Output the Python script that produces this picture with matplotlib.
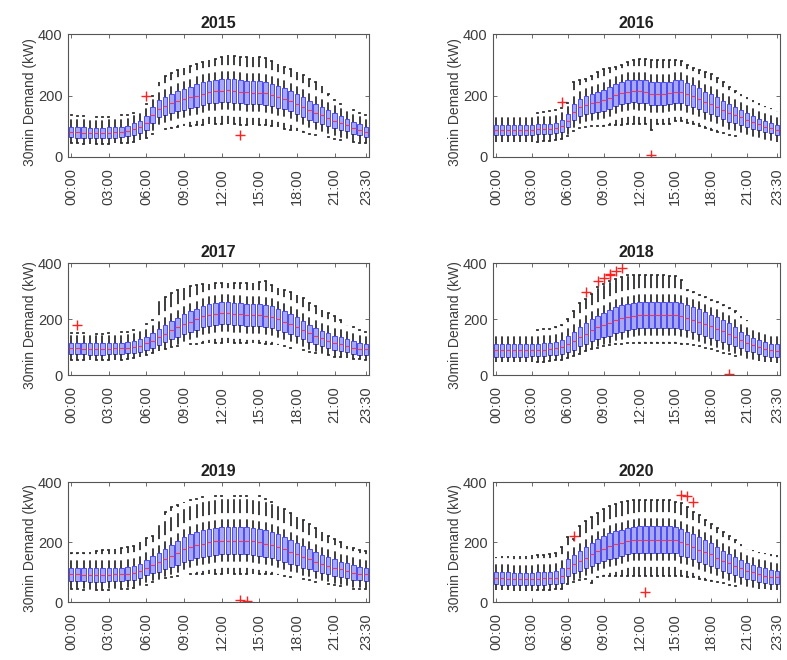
import matplotlib
matplotlib.use("Agg")
import matplotlib.pyplot as plt
import numpy as np

plt.rcParams["font.family"] = ["Liberation Sans", "DejaVu Sans"]
plt.rcParams["lines.scale_dashes"] = False

years = ["2015", "2016", "2017", "2018", "2019", "2020"]
tick_labels = ["00:00", "03:00", "06:00", "09:00", "12:00", "15:00", "18:00", "21:00", "23:30"]
slots = [f"{h:02d}:{m}" for h in range(24) for m in ("00", "30")]

# ---------------- 2015 ----------------
med_2015 = [82,80,79,78,78,78,79,80,82,85, 90,98,110,135,157,166,174,181,188,194,
            200,206,211,214,216,217,215,212,210,209, 209,207,202,196,190,182,172,162,152,143,
            135,127,118,110,103,95,88,82]
q1_2015 = [65,63,62,61,61,61,62,63,65,67, 71,78,88,109,129,136,142,148,154,159,
           164,169,174,176,178,179,177,174,172,171, 171,170,165,160,155,148,139,130,121,113,
           107,101,94,88,83,76,70,65]
q3_2015 = [99,97,96,95,95,95,96,97,99,102, 109,118,132,161,185,196,206,214,222,229,
           236,243,248,252,254,255,253,250,248,247, 247,244,239,232,225,216,205,194,183,173,
           163,153,142,132,123,114,106,99]
hi_2015 = [135,133,132,130,130,130,131,133,135,138, 142,150,172,200,245,262,272,282,290,296,
           303,310,315,318,325,333,330,326,325,325, 325,322,312,302,292,285,278,266,255,245,
           232,205,185,172,162,152,143,136]
lo_2015 = [45,44,43,42,42,42,43,44,45,47, 50,55,62,75,88,92,95,98,100,102,
           104,105,106,107,108,108,107,105,104,104, 104,103,100,96,92,88,84,80,76,72,
           68,64,60,56,52,50,47,45]
out_2015 = [("06:00", 200), ("13:30", 70)]

# ---------------- 2016 ----------------
med_2016 = [88,88,88,88,88,88,89,90,91,92, 94,101,118,147,161,169,174,180,185,192,
            201,208,212,215,214,212,206,206,206,208, 212,212,206,198,190,180,172,163,153,144,
            137,129,120,113,106,99,94,88]
q1_2016 = [72,72,72,72,72,72,73,74,75,76, 77,82,96,121,133,139,142,147,151,157,
           165,171,175,178,177,175,169,169,169,171, 175,175,170,163,156,147,140,132,123,115,
           110,104,97,92,87,81,77,72]
q3_2016 = [104,104,104,104,104,104,105,106,107,108, 111,120,140,173,189,199,206,213,219,227,
           237,245,249,252,251,249,243,243,243,245, 249,249,242,233,224,213,204,194,183,173,
           164,154,143,134,125,117,111,104]
hi_2016 = [142,142,142,142,142,142,143,144,146,148, 152,158,175,244,249,255,265,275,287,290,
           292,300,308,315,318,318,316,315,315,315, 315,312,298,290,282,276,271,258,244,228,
           215,205,195,185,175,165,158,150]
lo_2016 = [48,48,48,48,48,48,49,50,51,52, 54,58,68,85,95,98,100,101,102,103,
           104,105,106,106,106,106,88,106,106,106, 118,116,112,106,100,94,88,82,77,72,
           68,64,60,57,54,52,50,48]
out_2016 = [("05:30", 180), ("13:00", 7)]

# ---------------- 2017 ----------------
med_2017 = [96,95,94,93,93,93,94,95,96,98, 101,105,113,123,135,147,161,171,183,191,
            199,209,215,218,221,221,218,217,215,215, 215,211,207,199,191,183,173,161,149,140,
            131,123,116,110,104,98,94,92]
q1_2017 = [76,75,74,73,73,73,74,75,76,78, 80,83,89,97,107,117,129,137,147,154,
           161,170,175,178,181,181,178,177,175,175, 175,171,168,161,154,147,139,129,119,112,
           104,97,91,86,81,76,73,72]
q3_2017 = [116,115,114,113,113,113,114,115,116,118, 122,127,137,149,163,177,193,205,219,228,
           237,248,255,258,261,261,258,257,255,255, 255,251,246,237,228,219,207,193,179,168,
           158,149,141,134,127,120,115,112]
hi_2017 = [150,150,149,148,148,148,149,150,152,155, 160,170,182,195,263,280,292,304,312,318,
           322,325,326,328,328,328,328,328,329,330, 332,334,320,310,304,296,287,275,257,245,
           233,220,209,195,180,170,160,155]
lo_2017 = [55,54,53,52,52,52,53,54,55,57, 60,64,70,78,86,94,100,104,108,110,
           112,113,114,115,115,115,115,114,114,114, 113,112,110,107,103,98,93,88,83,78,
           74,70,66,63,60,58,56,55]
out_2017 = [("00:30", 179)]

# ---------------- 2018 ----------------
med_2018 = [88,88,88,88,88,88,89,90,91,93, 95,101,110,122,137,148,160,170,178,186,
            196,202,208,211,214,214,214,214,214,214, 214,211,205,198,190,182,174,166,157,148,
            137,125,115,107,99,93,89,87]
q1_2018 = [66,66,66,66,66,66,67,68,69,71, 72,76,82,91,103,111,120,128,134,141,
           150,155,161,164,167,167,167,167,167,167, 167,164,159,153,146,139,132,126,119,112,
           104,95,87,81,74,69,66,65]
q3_2018 = [110,110,110,110,110,110,111,112,113,115, 118,126,138,153,171,185,200,212,222,231,
           242,249,255,258,261,261,261,261,261,261, 261,258,251,243,234,225,216,206,195,184,
           170,155,143,133,124,117,112,109]
hi_2018 = [152,152,152,153,154,155,157,160,163,166, 170,180,200,230,257,270,290,315,325,335,
           342,350,356,358,358,358,358,358,356,354, 352,340,304,295,287,278,269,260,250,240,
           227,212,197,180,168,161,155,152]
lo_2018 = [45,45,45,45,45,45,46,47,48,50, 52,55,60,68,76,84,92,98,104,108,
           110,112,114,115,115,115,115,115,115,115, 114,112,110,106,102,97,92,86,80,74,
           68,63,58,54,50,47,45,44]
out_2018 = [("07:30", 297), ("08:30", 336), ("09:00", 346), ("09:30", 356),
            ("09:30", 362), ("10:00", 370), ("10:30", 382), ("19:30", 4)]

# ---------------- 2019 ----------------
med_2019 = [93,92,91,90,90,90,91,92,93,95, 98,104,115,124,132,143,154,165,176,184,
            191,195,200,202,204,204,204,204,204,202, 200,195,191,184,176,168,160,151,143,135,
            128,121,115,109,104,98,95,93]
q1_2019 = [71,70,69,68,68,68,69,70,71,73, 75,80,89,96,101,109,117,125,134,141,
           147,150,155,157,159,159,159,159,159,157, 155,150,147,141,134,128,122,115,109,103,
           98,93,88,83,79,74,72,71]
q3_2019 = [115,114,113,112,112,112,113,114,115,117, 121,128,141,152,163,177,191,205,218,227,
           235,240,245,247,249,249,249,249,249,247, 245,240,235,227,218,208,198,187,177,167,
           158,149,142,135,129,122,118,115]
hi_2019 = [165,165,165,167,170,172,175,178,180,182, 186,199,215,221,277,300,316,325,333,340,
           345,350,353,355,355,355,355,355,355,355, 353,345,333,320,310,296,283,272,260,246,
           232,220,210,199,188,180,172,171]
lo_2019 = [42,42,41,40,40,40,41,42,43,45, 48,52,58,66,74,80,85,88,90,92,
           93,94,95,95,95,95,95,95,95,95, 94,93,92,90,87,84,80,76,72,68,
           64,60,56,52,48,45,43,42]
out_2019 = [("13:30", 8), ("14:00", 2)]

# ---------------- 2020 ----------------
med_2020 = [80,79,78,77,77,77,77,78,79,80, 81,88,115,126,137,148,159,170,178,186,
            192,197,203,206,208,208,208,208,208,208, 206,199,192,184,175,167,159,148,137,129,
            121,112,104,99,93,88,84,82]
q1_2020 = [59,58,57,56,56,56,56,57,58,59, 59,64,87,96,105,113,121,130,136,143,
           148,153,159,162,164,164,164,164,164,164, 162,155,149,142,134,127,121,112,103,97,
           91,84,77,73,68,64,61,60]
q3_2020 = [101,100,99,98,98,98,98,99,100,101, 103,112,143,156,169,183,197,210,220,229,
           236,241,247,250,252,252,252,252,252,252, 250,243,235,226,216,207,197,184,171,161,
           151,140,131,125,118,112,107,104]
hi_2020 = [150,152,153,155,155,155,156,157,158,160, 165,185,217,210,255,270,283,297,311,320,
           328,333,338,339,339,339,339,339,339,339, 335,330,317,300,289,275,261,247,233,220,
           206,192,178,172,167,164,161,158]
lo_2020 = [40,40,39,38,38,38,38,39,40,41, 42,45,60,68,74,78,65,84,86,88,
           88,88,88,88,88,88,88,88,88,88, 88,87,85,82,78,74,70,66,62,58,
           55,52,49,46,44,42,41,40]
out_2020 = [("06:30", 221), ("12:30", 32), ("15:30", 356), ("16:00", 352), ("16:30", 334)]

series = {
    "2015": (med_2015, q1_2015, q3_2015, lo_2015, hi_2015, out_2015),
    "2016": (med_2016, q1_2016, q3_2016, lo_2016, hi_2016, out_2016),
    "2017": (med_2017, q1_2017, q3_2017, lo_2017, hi_2017, out_2017),
    "2018": (med_2018, q1_2018, q3_2018, lo_2018, hi_2018, out_2018),
    "2019": (med_2019, q1_2019, q3_2019, lo_2019, hi_2019, out_2019),
    "2020": (med_2020, q1_2020, q3_2020, lo_2020, hi_2020, out_2020),
}

W, H = 787, 660
fig = plt.figure(figsize=(W / 100, H / 100), dpi=100)
cols = [(68, 369), (493, 780)]
rows = [(34, 157), (263, 375), (482, 602)]

text_col = "#3c3c3c"
for k, yr in enumerate(years):
    r, c = divmod(k, 2)
    x0, x1 = cols[c]
    y0, y1 = rows[r]
    ax = fig.add_axes([x0 / W, 1 - y1 / H, (x1 - x0) / W, (y1 - y0) / H])
    med, q1, q3, lo, hi, outs = series[yr]
    stats = []
    for i in range(len(slots)):
        fl = [v for (t, v) in outs if t == slots[i]]
        stats.append(dict(med=med[i], q1=q1[i], q3=q3[i], whislo=lo[i], whishi=hi[i],
                          fliers=np.array(fl, dtype=float)))
    positions = np.arange(1, len(slots) + 1)
    ax.bxp(stats, positions=positions, widths=0.72, patch_artist=True,
           showfliers=True, manage_ticks=False, capwidths=0.12,
           boxprops=dict(facecolor="#a8a8f2", edgecolor="#4a4af6", linewidth=0.7),
           whiskerprops=dict(color="#2e2e2e", linewidth=1.3, linestyle=(4.5, (10, 4.5))),
           capprops=dict(color="#2e2e2e", linewidth=1.3),
           medianprops=dict(color="#f03a5a", linewidth=0.8),
           flierprops=dict(marker="+", markeredgecolor="#ff2020", markersize=7,
                           markeredgewidth=1.0, linestyle="none"))
    ax.set_xlim(0.5, len(slots) + 0.5)
    ax.set_ylim(0, 400)
    ax.set_yticks([0, 200, 400])
    tpos = [slots.index(t) + 1 for t in tick_labels]
    ax.set_xticks(tpos)
    ax.set_xticklabels(tick_labels, rotation=90)
    ax.tick_params(direction="in", length=3, top=True, right=True, width=0.6,
                   color="#555555", labelcolor=text_col, labelsize=10.5)
    ax.tick_params(axis="x", pad=8)
    ax.tick_params(axis="y", pad=4)
    for s in ax.spines.values():
        s.set_color("#555555")
        s.set_linewidth(0.8)
    ax.set_title(yr, fontsize=11.5, fontweight="bold", color="#202020", pad=4)
    ax.set_ylabel("30min Demand (kW)", fontsize=10, color=text_col)
    ax.yaxis.set_label_coords(-38 / (x1 - x0), 0.45)
    ax.yaxis.label.set_verticalalignment("center")

fig.savefig("out.png", dpi=100)
